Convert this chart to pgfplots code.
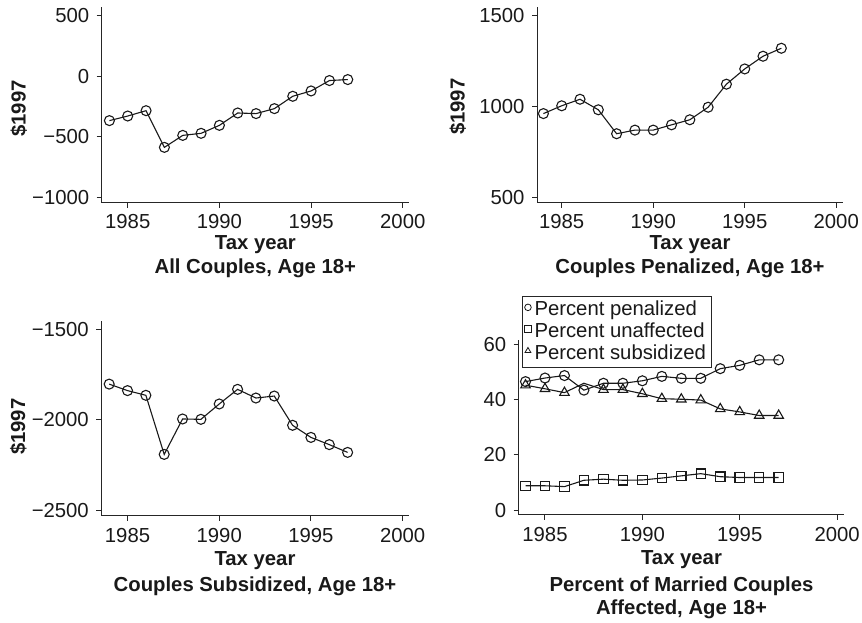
\documentclass[border=0pt]{standalone}
\usepackage{fontspec}
\setmainfont{Liberation Sans}
\usepackage{pgfplots}
\pgfplotsset{compat=1.18}

\newcommand{\fs}{\fontsize{20.3}{22.7}\selectfont}
\pgfplotsset{
  panel/.style={
    scale only axis,
    anchor=south west,
    axis x line*=bottom, axis y line*=left,
    axis line style={black!85, line width=1pt},
    tick align=outside,
    major tick length=5pt,
    tick style={black!85, line width=1pt},
    xtick={1985,1990,1995,2000},
    xticklabels={1985,1990,1995,2000},
    ticklabel style={font=\fs, text=black!90},
    xticklabel style={yshift=-3.5pt},
    yticklabel style={xshift=-4pt},
    label style={font=\fs\bfseries, text=black!90, align=center},
    every axis plot/.append style={black!90, line width=1.1pt, mark size=5pt},
    clip=false,
  }
}

\begin{document}
\begin{tikzpicture}
\useasboundingbox (0,0) rectangle (862pt,623pt);

% all couples
\begin{axis}[panel, at={(101.7pt,420.3pt)}, width=307.3pt, height=196pt,
  xmin=1983.58, xmax=2000.34, ymin=-1045, ymax=574,
  ytick={-1000,-500,0,500}, yticklabels={−1000,−500,0,500},
  xlabel={Tax year\\[0.7pt]All Couples, Age 18+},
  ylabel={\$1997}, ylabel style={at={(axis description cs:-0.27,0.48)}, anchor=center}]
\addplot[mark=o] coordinates {
  (1984,-367) (1985,-329) (1986,-285) (1987,-588) (1988,-489) (1989,-472) (1990,-406)
  (1991,-304) (1992,-309) (1993,-268) (1994,-166) (1995,-122) (1996,-36) (1997,-28)};
\end{axis}

% penalized
\begin{axis}[panel, at={(537pt,420.3pt)}, width=306pt, height=196pt,
  xmin=1983.65, xmax=2000.37, ymin=470, ymax=1550,
  ytick={500,1000,1500}, yticklabels={500,1000,1500},
  xlabel={Tax year\\[0.7pt]Couples Penalized, Age 18+},
  ylabel={\$1997}, ylabel style={at={(axis description cs:-0.259,0.49)}, anchor=center}]
\addplot[mark=o] coordinates {
  (1984,961) (1985,1004) (1986,1040) (1987,982) (1988,850) (1989,870) (1990,870)
  (1991,899) (1992,927) (1993,996) (1994,1123) (1995,1207) (1996,1277) (1997,1321)};
\end{axis}

% subsidized
\begin{axis}[panel, at={(101.3pt,107pt)}, width=307.4pt, height=195.3pt,
  xmin=1983.57, xmax=2000.33, ymin=-2533, ymax=-1452,
  ytick={-2500,-2000,-1500}, yticklabels={−2500,−2000,−1500},
  xlabel={Tax year\\[3.3pt]Couples Subsidized, Age 18+},
  xlabel style={yshift=-2pt},
  ylabel={\$1997}, ylabel style={at={(axis description cs:-0.27,0.457)}, anchor=center}]
\addplot[mark=o] coordinates {
  (1984,-1803) (1985,-1839) (1986,-1865) (1987,-2192) (1988,-1996) (1989,-1998) (1990,-1913)
  (1991,-1832) (1992,-1880) (1993,-1869) (1994,-2031) (1995,-2098) (1996,-2138) (1997,-2181)};
\end{axis}

% percent affected
\begin{axis}[panel, at={(518.7pt,108pt)}, width=325.6pt, height=175pt,
  xmin=1983.65, xmax=2000.37, ymin=-1.8, ymax=61.7,
  ytick={0,20,40,60}, yticklabels={0,20,40,60},
  xlabel={Tax year\\[4pt]Percent of Married Couples\\Affected, Age 18+},
  xlabel style={yshift=-2.5pt},
  legend style={at={(axis description cs:0.01,1.251)}, anchor=north west,
    draw=black!85, line width=0.9pt, font=\fs, text=black!90,
    inner xsep=2pt, inner ysep=3pt, row sep=0pt, column sep=0pt,
    nodes={inner xsep=3pt, inner ysep=1.1pt, text height=15pt, text depth=4.5pt},
    cells={anchor=west}},
  legend image code/.code={\path (-0.3em,0) (0.3em,0);
    \draw[#1, mark size=3.3pt, line width=0.8pt] plot coordinates {(0,0.3em)};}]
\addplot[mark=o] coordinates {
  (1984,46.6) (1985,47.9) (1986,48.8) (1987,43.5) (1988,46.0) (1989,46.0) (1990,46.9)
  (1991,48.5) (1992,47.8) (1993,47.8) (1994,51.3) (1995,52.5) (1996,54.5) (1997,54.5)};
\addlegendentry{Percent penalized}
\addplot[mark=square, mark size=4.7pt] coordinates {
  (1984,8.8) (1985,8.8) (1986,8.5) (1987,10.8) (1988,11.2) (1989,10.8) (1990,10.9)
  (1991,11.6) (1992,12.4) (1993,13.2) (1994,12.1) (1995,11.8) (1996,11.8) (1997,11.8)};
\addlegendentry{Percent unaffected}
\addplot[mark=triangle, mark size=5.5pt, mark indices={1,2,3,5,6,7,8,9,10,11,12,13,14}] coordinates {
  (1984,45.3) (1985,44.0) (1986,42.6) (1987,46.0) (1988,43.7) (1989,43.7) (1990,42.2)
  (1991,40.4) (1992,40.2) (1993,39.9) (1994,36.7) (1995,35.6) (1996,34.3) (1997,34.3)};
\addlegendentry{Percent subsidized}
\end{axis}
\end{tikzpicture}
\end{document}
